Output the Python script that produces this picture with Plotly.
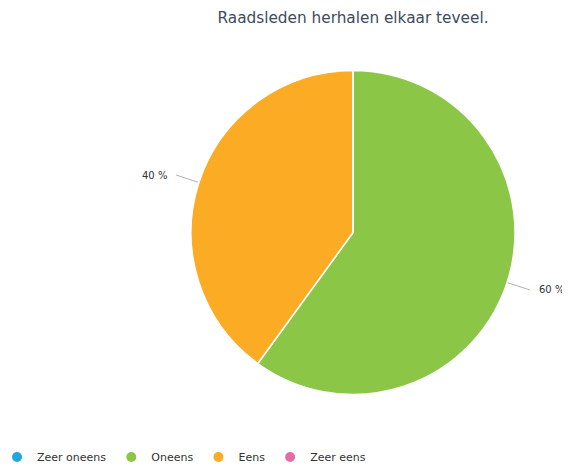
import math
import plotly.graph_objects as go

# ---- data ----
categories = ["Zeer oneens", "Oneens", "Eens", "Zeer eens"]
values = [0, 60, 40, 0]
colors = ["#1fa8e0", "#8bc646", "#fbab24", "#e46ca8"]
title_text = "Raadsleden herhalen elkaar teveel."

# ---- layout geometry (pixels, in window coords; page body adds an 8px offset) ----
OFF = 8
WIN_W, WIN_H = 570, 467
W, H = WIN_W - OFF, WIN_H - OFF          # figure size that fits the window
B = 30                                    # bottom margin for legend
PH = H - B                                # plot-area height
cx, cy, R = 353 - OFF, 232.5 - OFF, 162


def px(x):
    return x / W


def py(y):
    return 1 - y / PH


dom_x = [px(cx - R), px(cx + R)]
dom_y = [py(cy + R), py(cy - R)]

fig = go.Figure()

fig.add_trace(go.Pie(
    labels=categories,
    values=values,
    sort=False,
    direction="clockwise",
    rotation=0,
    marker=dict(colors=colors, line=dict(color="#ffffff", width=1.5)),
    textinfo="none",
    hoverinfo="label+percent",
    showlegend=False,
    domain=dict(x=dom_x, y=dom_y),
))

# legend entries as circle markers
for name, col in zip(categories, colors):
    fig.add_trace(go.Scatter(
        x=[None], y=[None], mode="markers", name=name,
        marker=dict(symbol="circle", size=10, color=col),
        showlegend=True,
    ))

# leader lines + outside labels, derived from the data
total = sum(values)
start = 0.0
shapes = []
annotations = []
for name, v in zip(categories, values):
    span = v / total * 360.0
    if v > 0:
        mid = math.radians(start + span / 2)
        sx, sy = math.sin(mid), -math.cos(mid)
        x0, y0 = cx + (R + 1) * sx, cy + (R + 1) * sy
        x1, y1 = cx + (R + 24) * sx, cy + (R + 24) * sy
        shapes.append(dict(
            type="line", xref="paper", yref="paper",
            x0=px(x0), y0=py(y0), x1=px(x1), y1=py(y1),
            line=dict(color="#b0b0b0", width=1),
        ))
        tx = x1 + (7 if sx > 0 else -7)
        annotations.append(dict(
            x=px(tx), y=py(y1), xref="paper", yref="paper",
            text=f"{v / total * 100:.0f} %", showarrow=False,
            xanchor="left" if sx > 0 else "right", yanchor="middle",
            font=dict(size=10, color="#333333", family="DejaVu Sans"),
        ))
    start += span

fig.update_layout(
    width=W, height=H,
    margin=dict(l=0, r=0, t=0, b=B, pad=0, autoexpand=False),
    paper_bgcolor="#ffffff",
    plot_bgcolor="#ffffff",
    font=dict(family="DejaVu Sans", color="#333333"),
    title=dict(
        text=title_text, x=cx / W, xanchor="center",
        y=1 - (18 - OFF) / H, yanchor="middle", xref="paper", yref="container",
        font=dict(size=15.3, color="#3d4b5f", family="DejaVu Sans"),
    ),
    xaxis=dict(visible=False),
    yaxis=dict(visible=False),
    legend=dict(
        orientation="h", x=-11 / W, xanchor="left", y=py(457 - OFF), yanchor="middle",
        font=dict(size=11, color="#333333", family="DejaVu Sans"),
        itemwidth=30, tracegroupgap=0, bgcolor="rgba(0,0,0,0)",
    ),
    shapes=shapes,
    annotations=annotations,
)

fig.write_html("out.html")
